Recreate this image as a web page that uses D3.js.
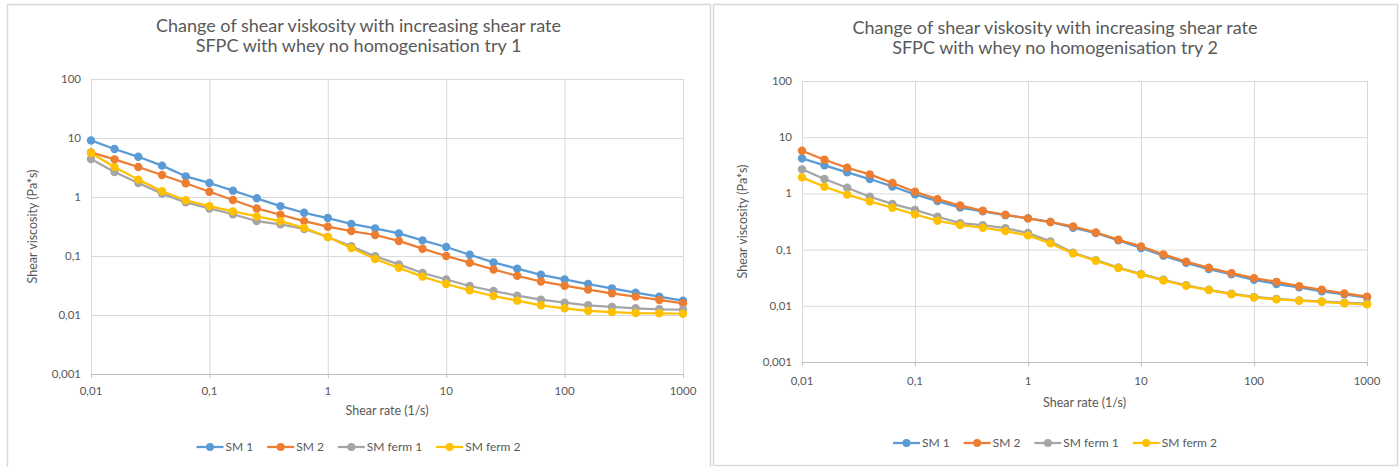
<!DOCTYPE html>
<html>
<head lang="en">
    <meta charset="UTF-8">
    <title>Shear viscosity</title>
    <script type="text/javascript" src="https://cdn.jsdelivr.net/npm/d3@7/dist/d3.min.js"></script>
    <style>
        body { margin: 0; background: #fff; }
        text { font-family: Lato, "Open Sans", sans-serif; }
    </style>
</head>
<body>
<svg id="mainSvg"></svg>
<script>
    var w = 1400, h = 467;

    // shear rate (1/s), shared by both runs
    var shearRate = [0.01, 0.0158, 0.0251, 0.0398, 0.0631, 0.1, 0.158, 0.251, 0.398, 0.631,
        1, 1.58, 2.51, 3.98, 6.31, 10, 15.8, 25.1, 39.8, 63.1, 100, 158, 251, 398, 631, 1000];

    var seriesNames = ["SM 1", "SM 2", "SM ferm 1", "SM ferm 2"];
    var seriesColors = ["#5b9bd5", "#ed7d31", "#a5a5a5", "#ffc000"];

    var xTicks = [0.01, 0.1, 1, 10, 100, 1000];
    var xTickLabels = ["0,01", "0,1", "1", "10", "100", "1000"];
    var yTicks = [0.001, 0.01, 0.1, 1, 10, 100];
    var yTickLabels = ["0,001", "0,01", "0,1", "1", "10", "100"];

    // try 1
    var try1SM1 = [9.1, 6.5, 4.8, 3.4, 2.24, 1.73, 1.28, 0.95, 0.70, 0.54, 0.44, 0.35, 0.294,
        0.242, 0.184, 0.142, 0.105, 0.078, 0.061, 0.048, 0.040, 0.0335, 0.0283, 0.0239, 0.0205, 0.0175];
    var try1SM2 = [5.7, 4.35, 3.22, 2.36, 1.71, 1.23, 0.89, 0.64, 0.50, 0.39, 0.314, 0.265, 0.227,
        0.180, 0.133, 0.100, 0.077, 0.059, 0.046, 0.037, 0.0314, 0.0269, 0.0233, 0.0205, 0.0180, 0.0158];
    var try1Ferm1 = [4.4, 2.65, 1.73, 1.14, 0.81, 0.64, 0.51, 0.39, 0.344, 0.287, 0.21, 0.146, 0.099,
        0.072, 0.0515, 0.040, 0.031, 0.0255, 0.0213, 0.0182, 0.0162, 0.0146, 0.0137, 0.0130, 0.0125, 0.0123];
    var try1Ferm2 = [5.57, 3.22, 1.97, 1.25, 0.88, 0.70, 0.57, 0.47, 0.39, 0.30, 0.21, 0.137, 0.089,
        0.063, 0.0447, 0.0335, 0.0262, 0.0210, 0.0175, 0.0146, 0.0130, 0.0118, 0.0112, 0.0108, 0.0107, 0.0105];

    // try 2
    var try2SM1 = [4.2, 3.15, 2.37, 1.80, 1.33, 0.96, 0.73, 0.56, 0.48, 0.41, 0.36, 0.31, 0.245,
        0.197, 0.146, 0.107, 0.078, 0.058, 0.045, 0.0363, 0.0290, 0.0244, 0.0213, 0.0181, 0.0160, 0.0140];
    var try2SM2 = [5.75, 3.97, 2.86, 2.18, 1.53, 1.07, 0.79, 0.61, 0.49, 0.417, 0.359, 0.309, 0.258,
        0.202, 0.150, 0.114, 0.082, 0.061, 0.0475, 0.0382, 0.0311, 0.0267, 0.0224, 0.0193, 0.0166, 0.0145];
    var try2Ferm1 = [2.68, 1.80, 1.26, 0.87, 0.65, 0.51, 0.384, 0.296, 0.273, 0.241, 0.197, 0.140, 0.088,
        0.065, 0.048, 0.037, 0.029, 0.0232, 0.0193, 0.0164, 0.0144, 0.0133, 0.0125, 0.0120, 0.0114, 0.0109];
    var try2Ferm2 = [1.93, 1.31, 0.95, 0.72, 0.556, 0.423, 0.326, 0.273, 0.245, 0.213, 0.179, 0.129, 0.0855,
        0.0633, 0.0469, 0.0361, 0.0283, 0.0227, 0.0190, 0.0161, 0.0141, 0.0130, 0.0123, 0.0118, 0.0111, 0.0106];

    var charts = [
        {
            titles: ["Change of shear viskosity with increasing shear rate", "SFPC with whey no homogenisation try 1"],
            series: [try1SM1, try1SM2, try1Ferm1, try1Ferm2],
            box: {x: 7, y: 4, w: 703, h: 490},
            plot: {l: 91, r: 683, t: 79, b: 374},
            titleY: [26, 46], xLabelY: 391, xTitleY: 411, yTitleX: 33, legendY: 447
        },
        {
            titles: ["Change of shear viskosity with increasing shear rate", "SFPC with whey no homogenisation try 2"],
            series: [try2SM1, try2SM2, try2Ferm1, try2Ferm2],
            box: {x: 713, y: 4, w: 684, h: 461},
            plot: {l: 802, r: 1367, t: 81, b: 362},
            titleY: [28, 48], xLabelY: 381, xTitleY: 403, yTitleX: 743, legendY: 443
        }
    ];

    var svg = d3.select("#mainSvg").attr("width", w).attr("height", h);

    charts.forEach(function (c) {
        var g = svg.append("g");
        var p = c.plot;
        var cx = c.box.x + c.box.w / 2;

        g.append("rect")
                .attr("x", c.box.x + 0.5).attr("y", c.box.y + 0.5)
                .attr("width", c.box.w).attr("height", c.box.h)
                .attr("fill", "#fff").attr("stroke", "#d9d9d9").attr("stroke-width", 1.5);

        var x = d3.scaleLog().domain([0.01, 1000]).range([p.l, p.r]);
        var y = d3.scaleLog().domain([0.001, 100]).range([p.b, p.t]);

        // titles
        g.selectAll("text.title")
                .data(c.titles)
                .enter()
                .append("text")
                .attr("class", "title")
                .attr("x", cx)
                .attr("y", function (d, i) { return c.titleY[i]; })
                .attr("dy", "0.35em")
                .attr("text-anchor", "middle")
                .attr("font-size", 18)
                .attr("fill", "#595959")
                .text(function (d) { return d; });

        // gridlines
        g.append("g")
                .attr("transform", "translate(0," + p.b + ")")
                .call(d3.axisBottom(x).tickValues(xTicks).tickSize(-(p.b - p.t)).tickFormat(""))
                .call(function (a) {
                    a.select(".domain").remove();
                    a.selectAll("line").attr("stroke", "#d9d9d9");
                });
        g.append("g")
                .attr("transform", "translate(" + p.l + ",0)")
                .call(d3.axisLeft(y).tickValues(yTicks).tickSize(-(p.r - p.l)).tickFormat(""))
                .call(function (a) {
                    a.select(".domain").remove();
                    a.selectAll("line").attr("stroke", "#d9d9d9");
                });

        // small tick marks along the bottom
        g.append("g")
                .attr("transform", "translate(0," + p.b + ")")
                .call(d3.axisBottom(x).tickValues(xTicks).tickSize(4).tickSizeOuter(0).tickFormat(""))
                .call(function (a) {
                    a.select(".domain").attr("stroke", "#bfbfbf");
                    a.selectAll("line").attr("stroke", "#bfbfbf");
                });

        // tick labels
        g.selectAll("text.xl")
                .data(xTicks)
                .enter()
                .append("text")
                .attr("class", "xl")
                .attr("x", function (d) { return x(d); })
                .attr("y", c.xLabelY)
                .attr("dy", "0.35em")
                .attr("text-anchor", "middle")
                .attr("font-size", 11.5)
                .attr("fill", "#595959")
                .text(function (d, i) { return xTickLabels[i]; });
        g.selectAll("text.yl")
                .data(yTicks)
                .enter()
                .append("text")
                .attr("class", "yl")
                .attr("x", p.l - 10)
                .attr("y", function (d) { return y(d); })
                .attr("dy", "0.35em")
                .attr("text-anchor", "end")
                .attr("font-size", 11.5)
                .attr("fill", "#595959")
                .text(function (d, i) { return yTickLabels[i]; });

        // axis titles
        g.append("text")
                .attr("x", (p.l + p.r) / 2).attr("y", c.xTitleY)
                .attr("dy", "0.35em")
                .attr("text-anchor", "middle")
                .attr("font-size", 12.5)
                .attr("fill", "#595959")
                .text("Shear rate (1/s)");
        g.append("text")
                .attr("transform", "translate(" + c.yTitleX + "," + ((p.t + p.b) / 2) + ") rotate(-90)")
                .attr("dy", "0.35em")
                .attr("text-anchor", "middle")
                .attr("font-size", 12.5)
                .attr("fill", "#595959")
                .text("Shear viscosity (Pa*s)");

        // lines and markers
        var line = d3.line()
                .x(function (d, i) { return x(shearRate[i]); })
                .y(function (d) { return y(d); });

        c.series.forEach(function (s, si) {
            g.append("path")
                    .datum(s)
                    .attr("d", line)
                    .attr("fill", "none")
                    .attr("stroke", seriesColors[si])
                    .attr("stroke-width", 2.25)
                    .attr("stroke-linejoin", "round");
            g.selectAll("circle.s" + si)
                    .data(s)
                    .enter()
                    .append("circle")
                    .attr("class", "s" + si)
                    .attr("cx", function (d, i) { return x(shearRate[i]); })
                    .attr("cy", function (d) { return y(d); })
                    .attr("r", 4.2)
                    .attr("fill", seriesColors[si]);
        });

        // legend, centred in the panel
        var lg = g.append("g");
        var pos = 0;
        seriesNames.forEach(function (name, i) {
            var e = lg.append("g").attr("transform", "translate(" + pos + ",0)");
            e.append("line").attr("x1", 0).attr("x2", 27).attr("y1", 0).attr("y2", 0)
                    .attr("stroke", seriesColors[i]).attr("stroke-width", 2.25);
            e.append("circle").attr("cx", 13.5).attr("cy", 0).attr("r", 4).attr("fill", seriesColors[i]);
            var t = e.append("text").attr("x", 29).attr("y", 0).attr("dy", "0.35em")
                    .attr("font-size", 12).attr("fill", "#595959").text(name);
            pos += 29 + t.node().getComputedTextLength() + 14;
        });
        var lw = pos - 14;
        lg.attr("transform", "translate(" + (cx - lw / 2) + "," + c.legendY + ")");
    });
</script>
</body>
</html>
